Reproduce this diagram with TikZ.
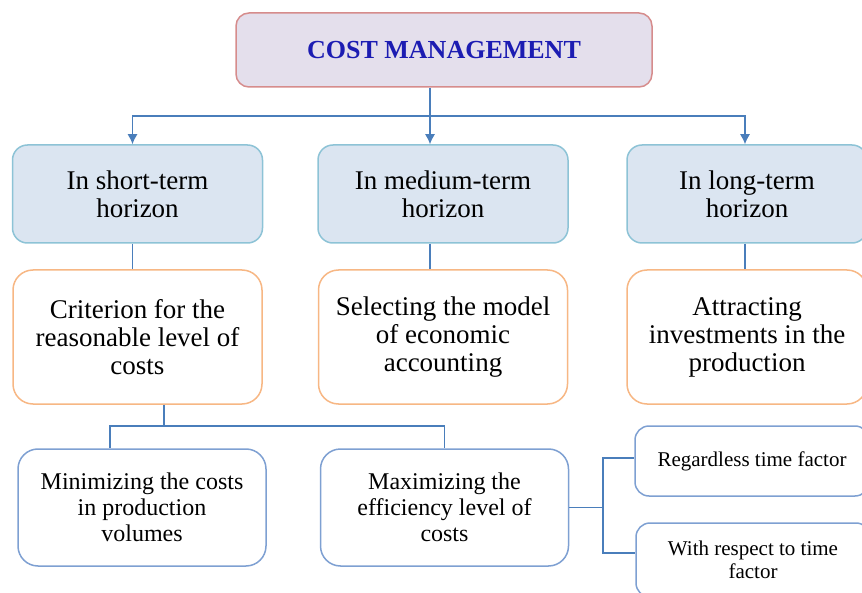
\documentclass[tikz,border=0pt]{standalone}
\usepackage{fontspec}
\setmainfont{Liberation Serif}
\usepackage{tikz}
\usetikzlibrary{positioning, calc, arrows.meta}
\definecolor{linkblue}{RGB}{74,126,187}
\definecolor{titlefill}{RGB}{228,223,236}
\definecolor{titleedge}{RGB}{214,140,140}
\definecolor{titletext}{RGB}{28,28,178}
\definecolor{horizonfill}{RGB}{219,229,241}
\definecolor{horizonedge}{RGB}{141,195,214}
\definecolor{aimedge}{RGB}{247,183,132}
\definecolor{wayedge}{RGB}{126,160,210}
\tikzstyle{Arrow} = [
%Create custom arrow style:
line width = 0.65pt, draw = linkblue,
-{Latex[length = 5pt, width = 5pt]}
]
\tikzstyle{Link} = [line width = 0.65pt, draw = linkblue]

\begin{document}
\begin{tikzpicture}[
				x = 0.5pt, y = -0.5pt,
				title/.style = {rectangle, rounded corners = 6.5pt, draw = titleedge, fill = titlefill, line width = 0.75pt, minimum width = 208pt, minimum height = 37pt, text = titletext, font = \fontsize{13}{15}\selectfont\bfseries},
				horizon/.style = {rectangle, rounded corners = 7.5pt, draw = horizonedge, fill = horizonfill, line width = 0.75pt, minimum width = 125pt, minimum height = 49pt, align = center, font = \fontsize{13.5}{14}\selectfont},
				aim/.style = {rectangle, rounded corners = 10pt, draw = aimedge, fill = white, line width = 0.75pt, minimum width = 124.5pt, minimum height = 67pt, align = center, font = \fontsize{13.5}{14}\selectfont},
				way/.style = {rectangle, rounded corners = 10pt, draw = wayedge, fill = white, line width = 0.75pt, minimum width = 124pt, minimum height = 58.5pt, align = center, font = \fontsize{12}{13}\selectfont},
				factor/.style = {rectangle, rounded corners = 7pt, draw = wayedge, fill = white, line width = 0.75pt, minimum width = 117pt, minimum height = 35pt, align = center, font = \fontsize{10.5}{11.5}\selectfont},
			]
			\clip (0,0) rectangle (862,593);

			\node[title](CM) at (444,50){COST MANAGEMENT};

			\node[horizon](ST) at (137.5,194){In short-term\\horizon};
			\node[horizon](MT) at (443,194){In medium-term\\horizon};
			\node[horizon, minimum width = 120pt](LT) at (747,194){In long-term\\horizon};

			\node[aim](CR) at (137.5,337){Criterion for the\\reasonable level of\\costs};
			\node[aim](SM) at (443,337){Selecting the model\\of economic\\accounting};
			\node[aim, minimum width = 120pt](AI) at (747,337){Attracting\\investments in the\\production};

			\node[way](MC) at (142,507.5){Minimizing the costs\\in production\\volumes};
			\node[way](ME) at (444.5,507.5){Maximizing the\\efficiency level of\\costs};

			\node[factor](RT) at (752,461){Regardless time factor};
			\node[factor, minimum height = 37pt](WT) at (753,560){With respect to time\\factor};

			% top level split
			\coordinate(top) at (430,116);
			\draw[Arrow]($(CM.south)+(-14,0)$)--($(MT.north)+(-13,0)$);
			\draw[Arrow](top)-|($(ST.north)+(-5,0)$);
			\draw[Arrow](top)-|($(LT.north)+(-2,0)$);

			\draw[Link]($(ST.south)+(-5,0)$)--($(CR.north)+(-5,0)$);
			\draw[Link]($(MT.south)+(-13,0)$)--($(SM.north)+(-13,0)$);
			\draw[Link]($(LT.south)+(-2,0)$)--($(AI.north)+(-2,0)$);

			% short-term criterion branches
			\coordinate(low) at (164,426);
			\draw[Link]($(CR.south)+(26.5,0)$)--(low);
			\draw[Link](low)-|($(MC.north)+(-32,0)$);
			\draw[Link](low)-|(ME.north);

			% time factor fork
			\coordinate(fork) at (603,507.5);
			\draw[Link](ME.east)--(fork);
			\draw[Link](fork)|-($(RT.west)+(0,-3)$);
			\draw[Link](fork)|-($(WT.west)+(0,-7)$);
		\end{tikzpicture}
\end{document}
